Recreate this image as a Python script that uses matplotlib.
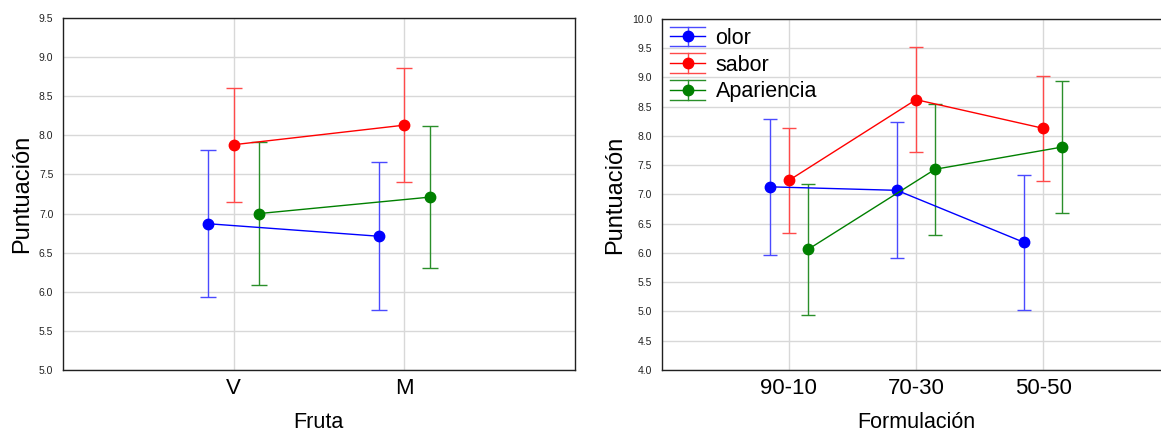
#!/usr/bin/env python3
"""
Mean scores with error bars: by fruit (left) and by formulation (right).
"""

import matplotlib.pyplot as plt
from matplotlib.legend_handler import HandlerBase
from matplotlib.lines import Line2D
from matplotlib.ticker import FormatStrFormatter, MultipleLocator

plt.rcParams["font.family"] = ["Liberation Sans", "DejaVu Sans"]

series = ["olor", "sabor", "Apariencia"]
colors = ["#0000ff", "#ff0000", "#008000"]
err_colors = ["#4a4aff", "#ff4a4a", "#2a8f2a"]

# left panel: fruit
fruta = ["V", "M"]
fruta_mean = {
    "olor": [6.87, 6.71],
    "sabor": [7.88, 8.13],
    "Apariencia": [7.00, 7.21],
}
fruta_err = {
    "olor": [0.94, 0.945],
    "sabor": [0.73, 0.73],
    "Apariencia": [0.915, 0.91],
}

# right panel: formulation
formulacion = ["90-10", "70-30", "50-50"]
form_mean = {
    "olor": [7.13, 7.07, 6.18],
    "sabor": [7.24, 8.62, 8.13],
    "Apariencia": [6.06, 7.43, 7.81],
}
form_err = {
    "olor": [1.16, 1.16, 1.16],
    "sabor": [0.90, 0.90, 0.90],
    "Apariencia": [1.12, 1.12, 1.12],
}

offsets = [-0.15, 0.0, 0.15]


class ErrHandle(HandlerBase):
    """Legend key: line + marker with full-width caps above and below."""

    def __init__(self, ecolor, **kw):
        super().__init__(**kw)
        self.ecolor = ecolor

    def create_artists(self, legend, orig_handle, xdescent, ydescent,
                       width, height, fontsize, trans):
        color = orig_handle.get_color()
        ec = self.ecolor[color]
        x0, x1 = -xdescent, -xdescent + width
        xm = (x0 + x1) / 2
        ym = -ydescent + height / 2
        c = 0.55 * height
        arts = [
            Line2D([x0, x1], [ym, ym], color=color, lw=1),
            Line2D([x0, x1], [ym + c, ym + c], color=ec, lw=1),
            Line2D([x0, x1], [ym - c, ym - c], color=ec, lw=1),
            Line2D([xm, xm], [ym - c, ym + c], color=ec, lw=1),
            Line2D([xm], [ym], color=color, marker="o", ms=7.5, lw=0),
        ]
        for a in arts:
            a.set_transform(trans)
        return arts


def draw_panel(ax, cats, means, errs, ylim, xlabel, capsize):
    handles = []
    for name, color, ec, off in zip(series, colors, err_colors, offsets):
        xs = [i + 1 + off for i in range(len(cats))]
        ax.errorbar(xs, means[name], yerr=errs[name], color=color, ecolor=ec,
                    marker="o", ms=7.5, lw=1, elinewidth=1, capsize=capsize,
                    capthick=1, zorder=3)
        handles.append(Line2D([], [], color=color, label=name))
    ax.set_xlim(0, len(cats) + 1)
    ax.set_ylim(*ylim)
    ax.set_xticks(range(1, len(cats) + 1))
    ax.set_xticklabels(cats, fontsize=16)
    ax.yaxis.set_major_locator(MultipleLocator(0.5))
    ax.yaxis.set_major_formatter(FormatStrFormatter("%.1f"))
    ax.tick_params(axis="y", labelsize=7.5, length=0, pad=7, labelcolor="#222222")
    ax.tick_params(axis="x", length=0, pad=6)
    ax.grid(True, color="#d8d8d8", lw=1)
    ax.set_axisbelow(True)
    for sp in ax.spines.values():
        sp.set_color("#202020")
        sp.set_linewidth(1)
    ax.set_xlabel(xlabel, fontsize=15.5, labelpad=9)
    ax.set_ylabel("Puntuación", fontsize=17, labelpad=4)
    return handles


fig = plt.figure(figsize=(11.61, 4.34), dpi=100)
ax1 = fig.add_axes([0.0543, 0.1475, 0.4407, 0.811])
ax2 = fig.add_axes([0.570, 0.1475, 0.438, 0.809])

draw_panel(ax1, fruta, fruta_mean, fruta_err, (5.0, 9.5), "Fruta", 6.0)
handles = draw_panel(ax2, formulacion, form_mean, form_err, (4.0, 10.0),
                     "Formulación", 5.0)

ax2.legend(handles=handles, loc="upper left", frameon=False, fontsize=15.5,
           handler_map={Line2D: ErrHandle(dict(zip(colors, err_colors)))},
           handlelength=1.6, handleheight=0.9, handletextpad=0.5,
           borderaxespad=0.1, labelspacing=0.25, borderpad=0.3)

fig.savefig("out.png", dpi=100)
plt.close(fig)
